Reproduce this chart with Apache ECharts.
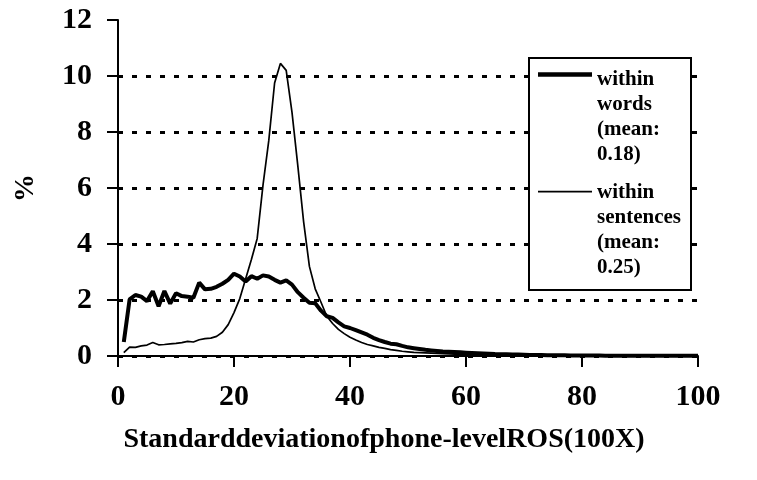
<!DOCTYPE html>
<html>
<head>
<meta charset="utf-8">
<script src="https://cdn.jsdelivr.net/npm/echarts@6/dist/echarts.min.js"></script>
<style>
  html, body { margin: 0; padding: 0; background: #fff; }
  #chart { width: 757px; height: 480px; }
</style>
</head>
<body>
<div id="chart"></div>
<script>
// x position of each bin (standard deviation x100)
const sdBins = Array.from({ length: 100 }, (_, i) => i + 1);

// % of tokens
const withinWords = [
  0.5, 2.02, 2.18, 2.12, 1.96, 2.31, 1.78, 2.32, 1.87, 2.24,
  2.14, 2.12, 2.08, 2.62, 2.38, 2.4, 2.47, 2.58, 2.72, 2.94,
  2.84, 2.66, 2.85, 2.76, 2.88, 2.84, 2.72, 2.62, 2.7, 2.55,
  2.28, 2.08, 1.9, 1.88, 1.62, 1.42, 1.36, 1.2, 1.06, 1.0,
  0.92, 0.84, 0.76, 0.65, 0.57, 0.5, 0.44, 0.42, 0.36, 0.31,
  0.28, 0.25, 0.22, 0.2, 0.18, 0.16, 0.15, 0.14, 0.13, 0.12,
  0.11, 0.1, 0.09, 0.08, 0.07, 0.065, 0.06, 0.055, 0.05, 0.045,
  0.04, 0.04, 0.035, 0.03, 0.03, 0.025, 0.025, 0.02, 0.02, 0.02,
  0.015, 0.015, 0.015, 0.012, 0.012, 0.01, 0.01, 0.01, 0.01, 0.008,
  0.008, 0.008, 0.006, 0.006, 0.006, 0.005, 0.005, 0.005, 0.005, 0.005
];
const withinSentences = [
  0.12, 0.32, 0.31, 0.36, 0.39, 0.48, 0.4, 0.41, 0.43, 0.45,
  0.48, 0.52, 0.5, 0.58, 0.62, 0.64, 0.7, 0.85, 1.12, 1.55,
  2.05, 2.75, 3.45, 4.2, 6.1, 7.7, 9.75, 10.45, 10.2, 8.7,
  6.8, 4.8, 3.2, 2.4, 1.92, 1.42, 1.16, 0.95, 0.8, 0.67,
  0.57, 0.48, 0.41, 0.36, 0.31, 0.27, 0.23, 0.2, 0.17, 0.15,
  0.13, 0.12, 0.11, 0.1, 0.09, 0.08, 0.075, 0.07, 0.065, 0.06,
  0.055, 0.05, 0.045, 0.04, 0.038, 0.035, 0.03, 0.028, 0.025, 0.022,
  0.02, 0.02, 0.018, 0.018, 0.016, 0.015, 0.014, 0.013, 0.012, 0.012,
  0.011, 0.01, 0.01, 0.01, 0.009, 0.009, 0.008, 0.008, 0.008, 0.007,
  0.007, 0.007, 0.006, 0.006, 0.006, 0.005, 0.005, 0.005, 0.005, 0.005
];

const wordsName = 'within\nwords\n(mean:\n0.18)';
const sentencesName = 'within\nsentences\n(mean:\n0.25)';

const font = '"Liberation Serif", "Times New Roman", serif';

const chart = echarts.init(document.getElementById('chart'));

// echarts centres legend text on its icon; three blank lines in front
// bring the first line down level with the icon
const legendText = (gap) => ({
  fontFamily: font, fontWeight: 'bold', fontSize: 21, lineHeight: 25, color: '#000',
  rich: { g: { lineHeight: gap, fontSize: 21 } }
});
const legendFormatter = name => '{g| }\n{g| }\n{g| }\n' + name;

const option = {
  animation: false,
  backgroundColor: '#fff',
  grid: { left: 118, right: 59, top: 20, bottom: 124 },
  xAxis: {
    type: 'value', min: 0, max: 100, interval: 20,
    name: 'Standarddeviationofphone-levelROS(100X)',
    nameLocation: 'middle', nameGap: 70,
    nameTextStyle: { fontFamily: font, fontWeight: 'bold', fontSize: 28, color: '#000', padding: [0, 48, 0, 0] },
    axisLine: { onZero: false, lineStyle: { color: '#000', width: 2 } },
    axisTick: { show: true, length: 11, lineStyle: { color: '#000', width: 2 } },
    axisLabel: { fontFamily: font, fontWeight: 'bold', fontSize: 30, color: '#000', margin: 26 },
    splitLine: { show: false }
  },
  yAxis: {
    type: 'value', min: 0, max: 12, interval: 2,
    name: '%', nameLocation: 'middle', nameGap: 78, nameRotate: 90,
    nameTextStyle: { fontFamily: font, fontWeight: 'bold', fontSize: 28, color: '#000' },
    axisLine: { show: true, lineStyle: { color: '#000', width: 2 } },
    axisTick: { show: true, length: 11, lineStyle: { color: '#000', width: 2 } },
    axisLabel: { fontFamily: font, fontWeight: 'bold', fontSize: 30, color: '#000', margin: 26 },
    splitLine: {
      show: true, showMaxLine: false,
      lineStyle: { color: '#000', width: 3, type: [5, 9] }
    }
  },
  legend: [
    {
      data: [wordsName], left: 538, top: -18, padding: 0,
      icon: 'rect', itemWidth: 54, itemHeight: 4.5, selectedMode: false,
      formatter: legendFormatter, textStyle: legendText(28.3)
    },
    {
      data: [sentencesName], left: 538, top: 103, padding: 0,
      icon: 'rect', itemWidth: 54, itemHeight: 1.7, selectedMode: false,
      formatter: legendFormatter, textStyle: legendText(25.7)
    }
  ],
  graphic: [
    {
      type: 'rect', left: 528, top: 57, z: 3,
      shape: { width: 162, height: 232 },
      style: { fill: '#fff', stroke: '#000', lineWidth: 2 }
    }
  ],
  series: [
    {
      name: wordsName, type: 'line', symbol: 'none',
      data: sdBins.map((x, i) => [x, withinWords[i]]),
      lineStyle: { color: '#000', width: 4 },
      itemStyle: { color: '#000' }
    },
    {
      name: sentencesName, type: 'line', symbol: 'none',
      data: sdBins.map((x, i) => [x, withinSentences[i]]),
      lineStyle: { color: '#000', width: 1.7 },
      itemStyle: { color: '#000' }
    }
  ]
};

chart.setOption(option);
</script>
</body>
</html>
